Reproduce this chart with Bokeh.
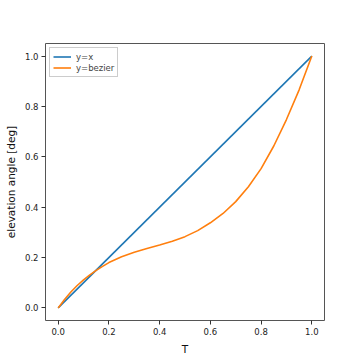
from bokeh.plotting import figure
from bokeh.models import FixedTicker, PrintfTickFormatter, Range1d
from bokeh.embed import file_html
from bokeh.resources import INLINE

# data
t_line = [0.0, 1.0]
y_line = [0.0, 1.0]
t_bez = [0.0, 0.025, 0.05, 0.075, 0.1, 0.125, 0.15, 0.175, 0.2, 0.25, 0.3, 0.35, 0.4, 0.45,
         0.5, 0.55, 0.6, 0.65, 0.7, 0.75, 0.8, 0.85, 0.9, 0.95, 1.0]
y_bez = [0.0, 0.033, 0.063, 0.089, 0.111, 0.131, 0.149, 0.165, 0.180, 0.203, 0.221, 0.236,
         0.250, 0.265, 0.283, 0.307, 0.338, 0.375, 0.422, 0.481, 0.553, 0.643, 0.748, 0.866, 1.0]
ticks = [0.0, 0.2, 0.4, 0.6, 0.8, 1.0]

p = figure(width=360, height=360, output_backend="svg", toolbar_location=None,
           x_range=Range1d(-0.05, 1.05), y_range=Range1d(-0.05, 1.05),
           min_border_left=45, min_border_right=36, min_border_top=43, min_border_bottom=40)
p.line(t_line, y_line, color="#1f77b4", line_width=1.6, legend_label="y=x")
p.line(t_bez, y_bez, color="#ff7f0e", line_width=1.6, legend_label="y=bezier")

p.xgrid.visible = False
p.ygrid.visible = False
p.outline_line_color = "#555555"
p.outline_line_width = 1
for ax in (p.xaxis, p.yaxis):
    ax.ticker = FixedTicker(ticks=ticks)
    ax.formatter = PrintfTickFormatter(format="%.1f")
    ax.axis_line_color = None
    ax.major_tick_out = 4
    ax.major_tick_in = 0
    ax.minor_tick_line_color = None
    ax.major_tick_line_color = "#333333"
    ax.major_label_text_font = "DejaVu Sans"
    ax.major_label_text_font_size = "8.5px"
    ax.major_label_text_color = "#222222"
    ax.axis_label_text_font = "DejaVu Sans"
    ax.axis_label_text_font_size = "10.5px"
    ax.axis_label_text_font_style = "normal"
    ax.axis_label_text_color = "#111111"
    ax.major_label_standoff = 3
    ax.axis_label_standoff = 5
p.xaxis.axis_label = "T"
p.yaxis.axis_label = "elevation angle [deg]"

p.legend.location = "top_left"
p.legend.margin = 4
p.legend.padding = 3
p.legend.spacing = 0
p.legend.label_standoff = 5
p.legend.label_text_font = "DejaVu Sans"
p.legend.label_text_font_size = "8.5px"
p.legend.label_height = 11
p.legend.glyph_height = 11
p.legend.glyph_width = 18
p.legend.border_line_color = "#cccccc"
p.legend.border_line_alpha = 1
p.legend.background_fill_alpha = 0.8

open("out.html", "w").write(file_html(p, INLINE))
